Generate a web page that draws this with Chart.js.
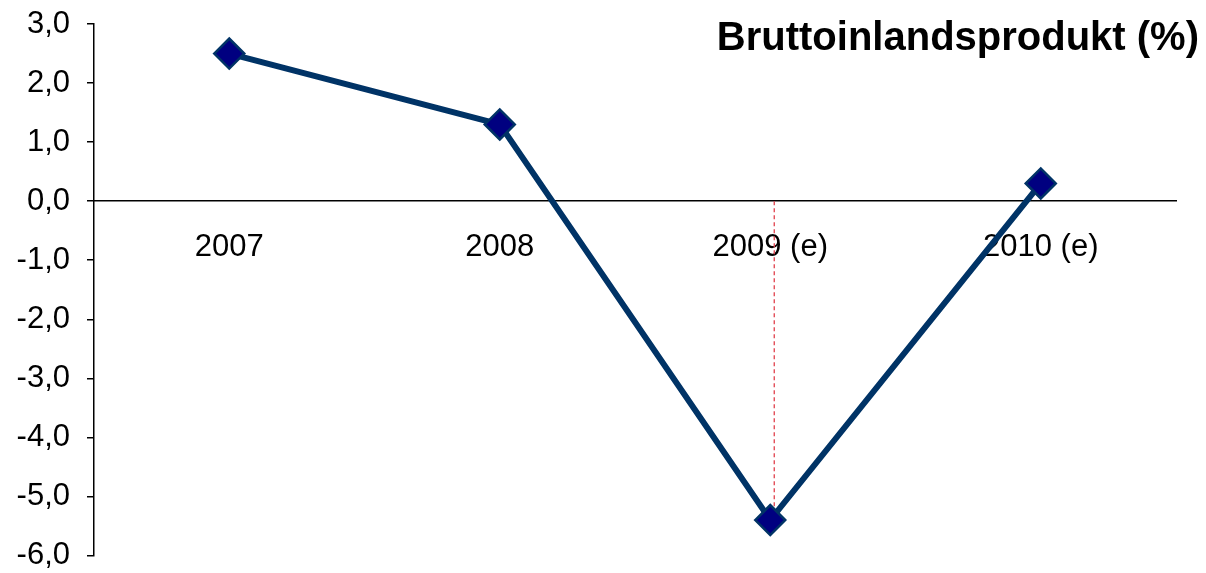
<!DOCTYPE html>
<html>
<head>
<meta charset="utf-8">
<script src="https://cdn.jsdelivr.net/npm/chart.js@4"></script>
<style>
  html, body { margin: 0; padding: 0; background: #fff; }
  #wrap { width: 1206px; height: 573px; }
</style>
</head>
<body>
<div id="wrap"><canvas id="gdpChart" width="1206" height="573"></canvas></div>
<script>
// chart data
const years = ['2007', '2008', '2009 (e)', '2010 (e)'];
const gdpGrowth = [2.5, 1.3, -5.4, 0.3];
const yTicks = [3, 2, 1, 0, -1, -2, -3, -4, -5, -6];
const chartTitle = 'Bruttoinlandsprodukt (%)';
const dropLineCategory = '2009 (e)';

const labelFont = '"Liberation Sans", Arial, sans-serif';

// red dashed drop line from the 2009 point to zero, plus the title
const extrasPlugin = {
    id: 'extras',
    beforeDatasetsDraw(chart) {
        const ctx = chart.ctx;
        const x = chart.scales.x;
        const y = chart.scales.y;
        const idx = years.indexOf(dropLineCategory);
        const px = x.getPixelForValue(idx) + 4;
        ctx.save();
        ctx.strokeStyle = '#e0404c';
        ctx.lineWidth = 1.3;
        ctx.setLineDash([4, 3]);
        ctx.beginPath();
        ctx.moveTo(px, y.getPixelForValue(0));
        ctx.lineTo(px, y.getPixelForValue(gdpGrowth[idx]));
        ctx.stroke();
        ctx.restore();
    },
    afterDraw(chart) {
        const ctx = chart.ctx;
        ctx.save();
        ctx.font = 'bold 40px ' + labelFont;
        ctx.fillStyle = '#000';
        ctx.textAlign = 'right';
        ctx.textBaseline = 'alphabetic';
        ctx.fillText(chartTitle, 1199, 50);
        ctx.restore();
    }
};

new Chart(document.getElementById('gdpChart').getContext('2d'), {
    type: 'line',
    data: {
        labels: years,
        datasets: [{
            data: gdpGrowth,
            borderColor: '#003366',
            borderWidth: 6,
            pointStyle: 'rectRot',
            pointRadius: 15,
            pointHoverRadius: 15,
            pointBackgroundColor: '#000080',
            pointBorderColor: '#003366',
            pointBorderWidth: 2.5,
            tension: 0
        }]
    },
    options: {
        responsive: false,
        animation: false,
        layout: {
            padding: { top: 24, right: 30, bottom: 16, left: 0 }
        },
        plugins: {
            legend: { display: false },
            tooltip: { enabled: false },
            title: { display: false }
        },
        scales: {
            x: {
                position: { y: 0 },
                offset: true,
                grid: { display: false, drawTicks: false },
                border: { display: true, color: '#000', width: 1.5 },
                ticks: {
                    color: '#000',
                    font: { family: labelFont, size: 31 },
                    padding: 28,
                    maxRotation: 0
                }
            },
            y: {
                min: -6,
                max: 3,
                afterFit(scale) {
                    scale.width = 94;
                    scale.paddingTop = 0;
                    scale.paddingBottom = 0;
                },
                afterBuildTicks(scale) {
                    scale.ticks = yTicks.map(v => ({ value: v }));
                },
                grid: {
                    drawOnChartArea: false,
                    drawTicks: true,
                    tickLength: 7,
                    color: '#000',
                    lineWidth: 1.5
                },
                border: { display: true, color: '#000', width: 1.5 },
                ticks: {
                    color: '#000',
                    font: { family: labelFont, size: 31 },
                    padding: 17,
                    callback: v => v.toFixed(1).replace('.', ',')
                }
            }
        }
    },
    plugins: [extrasPlugin]
});
</script>
</body>
</html>
